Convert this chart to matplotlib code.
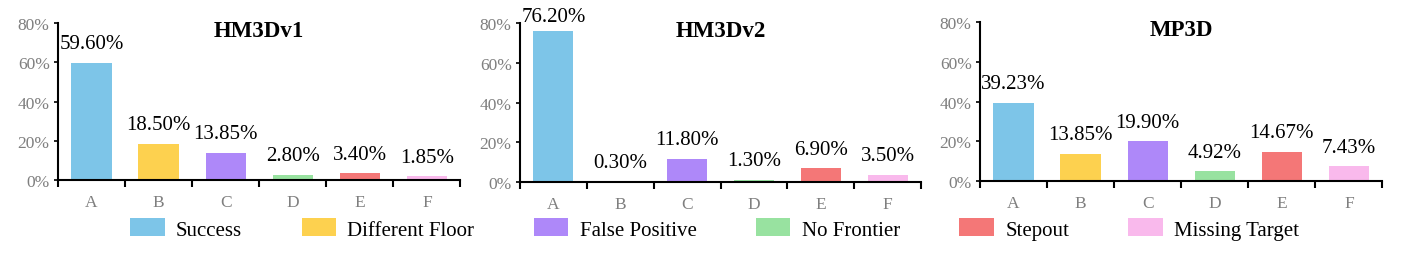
import matplotlib.pyplot as plt
from matplotlib.patches import Patch

plt.rcParams['font.family'] = 'Liberation Serif'

# Data
categories = ['A', 'B', 'C', 'D', 'E', 'F']
legend_names = ['Success', 'Different Floor', 'False Positive', 'No Frontier', 'Stepout', 'Missing Target']
colors = ['#7DC5E8', '#FDD14F', '#AE88F9', '#98E2A0', '#F47777', '#F9B9EC']

titles = ['HM3Dv1', 'HM3Dv2', 'MP3D']
hm3dv1 = [59.60, 18.50, 13.85, 2.80, 3.40, 1.85]
hm3dv2 = [76.20, 0.30, 11.80, 1.30, 6.90, 3.50]
mp3d = [39.23, 13.85, 19.90, 4.92, 14.67, 7.43]
all_values = [hm3dv1, hm3dv2, mp3d]

fig = plt.figure(figsize=(14.07, 2.55), dpi=100)

# axes rectangles (left, bottom, width, height)
rects = [[0.0412, 0.290, 0.286, 0.616],
         [0.3696, 0.282, 0.285, 0.624],
         [0.6965, 0.286, 0.286, 0.624]]

x = list(range(len(categories)))
for rect, title, values in zip(rects, titles, all_values):
    ax = fig.add_axes(rect)
    ax.bar(x, values, width=0.6, color=colors)
    for xi, v in zip(x, values):
        # the tallest label sits a bit closer to its bar so it stays near the top
        off = 3 if v > 70 else 7
        ax.annotate('%.2f%%' % v, (xi, v), xytext=(0, off), textcoords='offset points',
                    ha='center', va='bottom', fontsize=15)
    ax.set_xlim(-0.5, 5.5)
    ax.set_ylim(0, 80)
    ax.set_yticks([0, 20, 40, 60, 80])
    ax.set_yticklabels(['%d%%' % t for t in [0, 20, 40, 60, 80]])
    ax.set_xticks(x)
    ax.set_xticklabels(categories)
    ax.set_xticks([i - 0.5 for i in range(7)], minor=True)
    ax.tick_params(axis='x', which='major', length=0, pad=10, labelsize=12.5, labelcolor='#7f7f7f')
    ax.tick_params(axis='x', which='minor', length=5, width=1.5, direction='out')
    ax.tick_params(axis='y', length=3, width=1.2, labelsize=12.5, labelcolor='#7f7f7f', pad=3)
    ax.spines['top'].set_visible(False)
    ax.spines['right'].set_visible(False)
    ax.spines['left'].set_linewidth(1.5)
    ax.spines['bottom'].set_linewidth(1.5)
    ax.text(0.5, 0.955, title, transform=ax.transAxes, ha='center', va='center',
            fontsize=16.5, fontweight='bold')

handles = [Patch(facecolor=c, label=n) for c, n in zip(colors, legend_names)]
fig.legend(handles=handles, loc='center', bbox_to_anchor=(0.508, 0.098), ncol=6,
           frameon=False, fontsize=15, handlelength=1.65, handleheight=0.95,
           columnspacing=2.85, handletextpad=0.55)

plt.savefig('out.png', dpi=100)
